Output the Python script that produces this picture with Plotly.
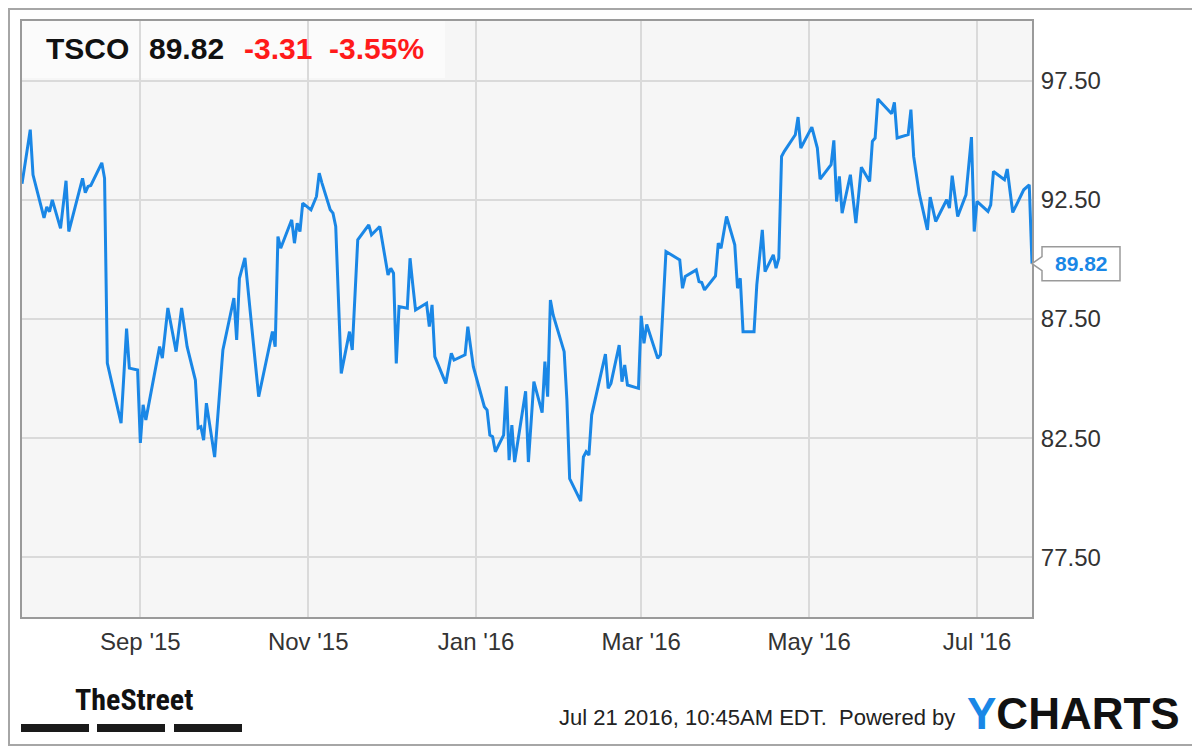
import plotly.graph_objects as go

# ---------------- data ----------------
dates = [
    "2015-07-20", "2015-07-23", "2015-07-24", "2015-07-28", "2015-07-29", "2015-07-30", "2015-07-31",
    "2015-08-03", "2015-08-05", "2015-08-06", "2015-08-11", "2015-08-12", "2015-08-13", "2015-08-14",
    "2015-08-18", "2015-08-19", "2015-08-20", "2015-08-25", "2015-08-27", "2015-08-28", "2015-08-31",
    "2015-09-01", "2015-09-02", "2015-09-03", "2015-09-08", "2015-09-09", "2015-09-11", "2015-09-14",
    "2015-09-16", "2015-09-18", "2015-09-21", "2015-09-22", "2015-09-23", "2015-09-24", "2015-09-25",
    "2015-09-28", "2015-10-01", "2015-10-05", "2015-10-06", "2015-10-07", "2015-10-09", "2015-10-14",
    "2015-10-19", "2015-10-20", "2015-10-21", "2015-10-22", "2015-10-26", "2015-10-27", "2015-10-28",
    "2015-10-29", "2015-10-30", "2015-11-02", "2015-11-04", "2015-11-05", "2015-11-06", "2015-11-09",
    "2015-11-10", "2015-11-11", "2015-11-13", "2015-11-16", "2015-11-17", "2015-11-19", "2015-11-23",
    "2015-11-24", "2015-11-27", "2015-11-30", "2015-12-01", "2015-12-02", "2015-12-03", "2015-12-04",
    "2015-12-07", "2015-12-08", "2015-12-09", "2015-12-10", "2015-12-14", "2015-12-15", "2015-12-16",
    "2015-12-17", "2015-12-21", "2015-12-23", "2015-12-24", "2015-12-28", "2015-12-29", "2015-12-31",
    "2016-01-04", "2016-01-05", "2016-01-06", "2016-01-07", "2016-01-08", "2016-01-11", "2016-01-12",
    "2016-01-13", "2016-01-14", "2016-01-15", "2016-01-19", "2016-01-20", "2016-01-22", "2016-01-25",
    "2016-01-26", "2016-01-27", "2016-01-28", "2016-01-29", "2016-02-02", "2016-02-03", "2016-02-04",
    "2016-02-08", "2016-02-09", "2016-02-10", "2016-02-11", "2016-02-12", "2016-02-17", "2016-02-18",
    "2016-02-19", "2016-02-22", "2016-02-23", "2016-02-24", "2016-02-25", "2016-02-29", "2016-03-01",
    "2016-03-02", "2016-03-03", "2016-03-07", "2016-03-08", "2016-03-10", "2016-03-14", "2016-03-15",
    "2016-03-16", "2016-03-17", "2016-03-21", "2016-03-22", "2016-03-23", "2016-03-24", "2016-03-28",
    "2016-03-29", "2016-03-30", "2016-04-01", "2016-04-04", "2016-04-05", "2016-04-06", "2016-04-07",
    "2016-04-11", "2016-04-12", "2016-04-14", "2016-04-15", "2016-04-18", "2016-04-19", "2016-04-20",
    "2016-04-21", "2016-04-22", "2016-04-25", "2016-04-26", "2016-04-27", "2016-04-28", "2016-05-02",
    "2016-05-04", "2016-05-05", "2016-05-09", "2016-05-10", "2016-05-11", "2016-05-12", "2016-05-13",
    "2016-05-16", "2016-05-18", "2016-05-20", "2016-05-23", "2016-05-24", "2016-05-25", "2016-05-26",
    "2016-05-31", "2016-06-01", "2016-06-02", "2016-06-06", "2016-06-07", "2016-06-08", "2016-06-10",
    "2016-06-13", "2016-06-14", "2016-06-16", "2016-06-20", "2016-06-21", "2016-06-22", "2016-06-24",
    "2016-06-27", "2016-06-29", "2016-06-30", "2016-07-01", "2016-07-05", "2016-07-06", "2016-07-07",
    "2016-07-11", "2016-07-12", "2016-07-14", "2016-07-18", "2016-07-20", "2016-07-21",
]
prices = [
    93.17, 95.44, 93.55, 91.74, 92.20, 92.00, 92.50,
    91.30, 93.30, 91.17, 93.40, 92.80, 93.06, 93.10,
    94.05, 93.40, 85.65, 83.13, 87.10, 85.44, 85.36,
    82.30, 83.90, 83.26, 86.34, 85.86, 87.96, 86.13,
    87.96, 86.34, 84.94, 82.92, 82.98, 82.42, 83.97,
    81.71, 86.20, 88.38, 86.62, 89.20, 90.06, 84.24,
    86.97, 86.34, 90.96, 90.47, 91.66, 90.68, 91.52,
    91.17, 92.36, 92.08, 92.64, 93.62, 93.20, 92.08,
    91.94, 91.38, 85.22, 86.97, 86.20, 90.82, 91.45,
    91.03, 91.38, 89.35, 89.63, 89.42, 85.64, 88.02,
    87.95, 90.05, 88.93, 87.88, 88.16, 87.18, 88.09,
    85.92, 84.80, 86.06, 85.78, 86.00, 87.18, 85.50,
    83.82, 83.68, 82.63, 82.56, 81.93, 82.63, 84.68,
    81.58, 83.05, 81.50, 84.47, 81.50, 84.87, 83.57,
    85.71, 84.24, 88.30, 87.67, 86.13, 84.10, 80.80,
    79.86, 81.71, 81.93, 81.79, 83.47, 86.03, 84.59,
    84.80, 86.41, 84.87, 85.57, 84.73, 84.59, 87.63,
    86.48, 87.27, 85.85, 86.00, 90.33, 90.05, 89.98,
    88.79, 89.28, 89.56, 89.07, 89.03, 88.72, 89.31,
    90.68, 90.47, 91.80, 90.61, 88.79, 89.21, 86.97,
    86.97, 88.93, 91.24, 89.49, 90.19, 89.63, 90.05,
    94.32, 94.53, 95.02, 95.23, 95.97, 94.67, 95.55,
    94.67, 93.37, 93.97, 94.99, 92.43, 93.48, 91.94,
    93.55, 91.52, 93.87, 93.27, 94.95, 95.09, 96.73,
    96.11, 96.59, 95.09, 95.23, 96.28, 94.32, 92.78,
    91.24, 92.61, 91.59, 92.50, 92.15, 93.51, 91.80,
    92.71, 95.13, 91.17, 92.43, 92.01, 92.29, 93.69,
    93.34, 93.79, 91.97, 92.92, 93.13, 89.82,
]

ticker = "TSCO"
last_price = "89.82"
change = "-3.31"
change_pct = "-3.55%"
timestamp_text = "Jul 21 2016, 10:45AM EDT.  Powered by"
y_tick_vals = [77.5, 82.5, 87.5, 92.5, 97.5]
y_tick_text = ["77.50", "82.50", "87.50", "92.50", "97.50"]
x_tick_vals = ["2015-09-01", "2015-11-01", "2016-01-01", "2016-03-01", "2016-05-01", "2016-07-01"]
x_tick_text = ["Sep '15", "Nov '15", "Jan '16", "Mar '16", "May '16", "Jul '16"]
y_range = [75, 100]
x_range = ["2015-07-20", "2016-07-21"]

# ---------------- layout helpers ----------------
# The page body has an 8px default margin, so the figure is sized to fit the
# 1200x747 window and every target position (page pixels) is shifted by OFF.
OFF = 8
W, H = 1200 - OFF, 747 - OFF
L = 22 - OFF
T = 21 - OFF
R = W - (1032 - OFF)
B = H - (617 - OFF)
PW, PH = W - L - R, H - T - B


def px(x):
    return (x - OFF - L) / PW


def py(y):
    return (H - B - (y - OFF)) / PH


FONT = "Liberation Sans, Arial, Helvetica, sans-serif"
BLUE = "#1a87e6"

fig = go.Figure()
fig.add_trace(go.Scatter(
    x=dates, y=prices, mode="lines",
    line=dict(color=BLUE, width=3),
    hoverinfo="skip", showlegend=False,
))

shapes = []
# translucent header box
shapes.append(dict(type="rect", xref="paper", yref="paper",
                   x0=px(22), x1=px(445), y0=py(78), y1=py(21),
                   fillcolor="rgba(255,255,255,0.55)", line=dict(width=0), layer="below"))
# outer frame
shapes.append(dict(type="rect", xref="paper", yref="paper",
                   x0=px(OFF + 1), x1=px(1199), y0=py(745), y1=py(OFF + 1),
                   line=dict(color="#a6a6a6", width=2), fillcolor="rgba(0,0,0,0)"))
# TheStreet bars
for a, b in [(21, 89), (97, 165), (174, 242)]:
    shapes.append(dict(type="rect", xref="paper", yref="paper",
                       x0=px(a), x1=px(b), y0=py(732), y1=py(724),
                       fillcolor="#1a1a1a", line=dict(width=0)))
# last value callout
last_val = prices[-1]
y_anchor = (last_val - y_range[0]) / (y_range[1] - y_range[0])
shapes.append(dict(type="path", xref="paper", yref="paper",
                   xsizemode="pixel", ysizemode="pixel",
                   xanchor=1, yanchor=y_anchor,
                   path="M0,0 L10,7 L10,17 L88,17 L88,-17 L10,-17 L10,-7 Z",
                   fillcolor="white", line=dict(color="#9a9a9a", width=1.5)))

annotations = []
hdr_y = py(48)
for txt, x0, col in [(ticker, 46, "#111111"), (last_price, 149, "#111111"),
                     (change, 244, "#ff1a1a"), (change_pct, 329, "#ff1a1a")]:
    annotations.append(dict(text="<b>%s</b>" % txt, xref="paper", yref="paper",
                            x=px(x0 - 2), y=hdr_y, xanchor="left", yanchor="middle",
                            showarrow=False, font=dict(family=FONT, size=30, color=col)))

annotations.append(dict(text="<b>%s</b>" % last_price, xref="paper", yref="y",
                        x=1, y=last_val, xanchor="center", yanchor="middle", xshift=49,
                        showarrow=False, font=dict(family=FONT, size=21, color=BLUE)))

annotations.append(dict(text=timestamp_text, xref="paper", yref="paper",
                        x=px(957), y=py(717), xanchor="right", yanchor="middle",
                        showarrow=False, font=dict(family=FONT, size=22, color="#222222")))
annotations.append(dict(text="<b><span style='color:%s'>Y</span>CHARTS</b>" % BLUE,
                        xref="paper", yref="paper",
                        x=px(965), y=py(713), xanchor="left", yanchor="middle",
                        showarrow=False, font=dict(family=FONT, size=44, color="#111111")))
annotations.append(dict(text="<b>TheStreet</b>", xref="paper", yref="paper",
                        x=px(73), y=py(699), xanchor="left", yanchor="middle",
                        showarrow=False,
                        font=dict(family="Liberation Sans Narrow, Roboto Condensed, Liberation Sans, sans-serif",
                                  size=30, color="#111111")))

fig.update_layout(
    width=W, height=H,
    margin=dict(l=L, r=R, t=T, b=B, pad=0),
    paper_bgcolor="white",
    plot_bgcolor="#f6f6f6",
    showlegend=False,
    shapes=shapes,
    annotations=annotations,
    xaxis=dict(
        type="date", range=x_range,
        tickvals=x_tick_vals, ticktext=x_tick_text,
        showgrid=True, gridcolor="#dadada", gridwidth=1.5,
        showline=True, linecolor="#9a9a9a", linewidth=2, mirror=True,
        ticks="", ticklabelstandoff=2,
        tickfont=dict(family=FONT, size=24, color="#333333"),
        zeroline=False, fixedrange=True,
    ),
    yaxis=dict(
        side="right", range=y_range,
        tickvals=y_tick_vals, ticktext=y_tick_text,
        showgrid=True, gridcolor="#dadada", gridwidth=1.5,
        showline=True, linecolor="#9a9a9a", linewidth=2, mirror=True,
        ticks="", ticklabelstandoff=2,
        tickfont=dict(family=FONT, size=24, color="#333333"),
        zeroline=False, fixedrange=True,
    ),
)

fig.write_html("out.html")
